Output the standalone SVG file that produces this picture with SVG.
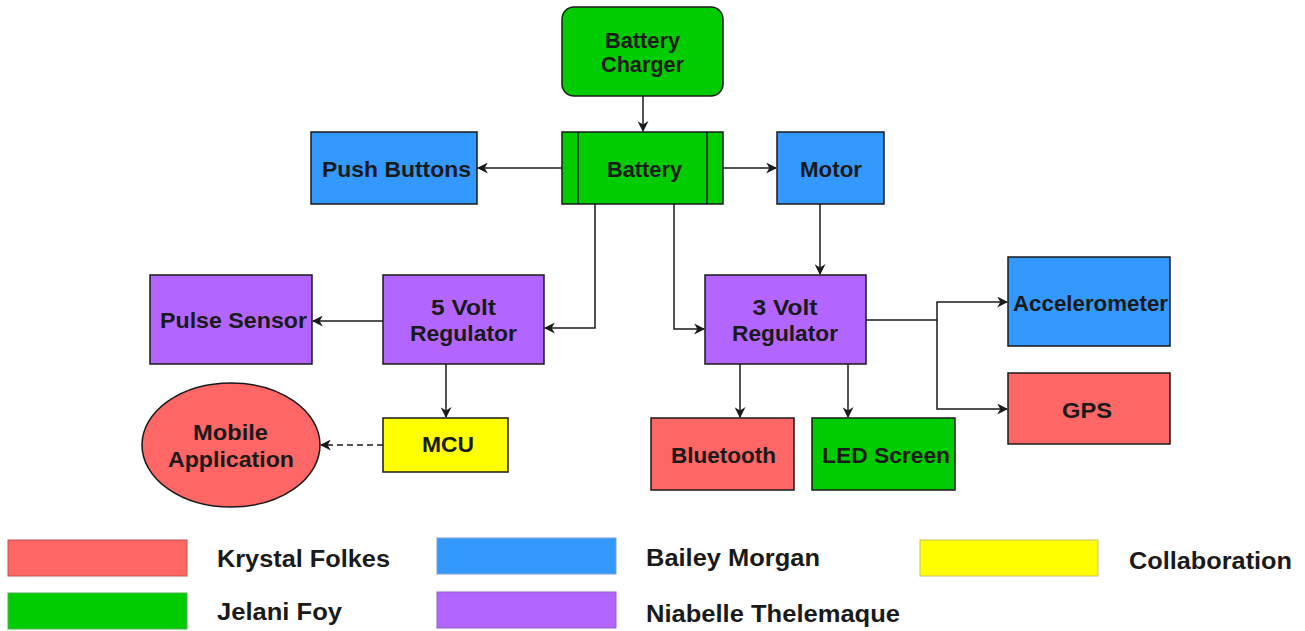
<svg xmlns="http://www.w3.org/2000/svg" width="1305" height="631" viewBox="0 0 1305 631">
<style>
.n{stroke:#1a1a1a;stroke-width:1.5}
.g{fill:#00CC00}.b{fill:#3399FF}.p{fill:#B266FF}.r{fill:#FF6666}.y{fill:#FFFF00}
text{font-family:"Liberation Sans",Arial,sans-serif;font-weight:bold;fill:#1a1a1a;text-anchor:middle}
.t{font-size:22px}
.l{font-size:23px;text-anchor:start}
.c{fill:none;stroke:#1a1a1a;stroke-width:1.5}
</style>
<defs>
<marker id="a" viewBox="0 0 10 10" refX="9" refY="5" markerWidth="11" markerHeight="11" markerUnits="userSpaceOnUse" orient="auto">
<path d="M0,0 L10,5 L0,10 L3,5 Z" fill="#1a1a1a"/>
</marker>
</defs>
<g id="connectors">
<path class="c" d="M643,96 V131" marker-end="url(#a)"/>
<path class="c" d="M562,168 H478" marker-end="url(#a)"/>
<path class="c" d="M723,168 H776" marker-end="url(#a)"/>
<path class="c" d="M595,204 V328 H545" marker-end="url(#a)"/>
<path class="c" d="M674,204 V329 H704" marker-end="url(#a)"/>
<path class="c" d="M820,204 V274" marker-end="url(#a)"/>
<path class="c" d="M383,321 H313" marker-end="url(#a)"/>
<path class="c" d="M446,364 V417" marker-end="url(#a)"/>
<path class="c" d="M383,445 H321" stroke-dasharray="6,4" marker-end="url(#a)"/>
<path class="c" d="M740,364 V417" marker-end="url(#a)"/>
<path class="c" d="M848,364 V417" marker-end="url(#a)"/>
<path class="c" d="M866,320 H937 V302 H1007" marker-end="url(#a)"/>
<path class="c" d="M937,320 V409 H1007" marker-end="url(#a)"/>
</g>
<g id="battery-charger"><rect class="n g" x="562" y="7" width="161" height="89" rx="12"/><text class="t" x="642.5" y="48" textLength="75" lengthAdjust="spacingAndGlyphs">Battery</text><text class="t" x="642.5" y="72" textLength="83" lengthAdjust="spacingAndGlyphs">Charger</text></g>
<g id="battery"><rect class="n g" x="562" y="132" width="161" height="72"/><line class="n" x1="578" y1="132" x2="578" y2="204"/><line class="n" x1="707" y1="132" x2="707" y2="204"/><text class="t" x="644.5" y="177" textLength="75" lengthAdjust="spacingAndGlyphs">Battery</text></g>
<g id="push-buttons"><rect class="n b" x="311" y="132" width="166" height="72"/><text class="t" x="396.5" y="177" textLength="149" lengthAdjust="spacingAndGlyphs">Push Buttons</text></g>
<g id="motor"><rect class="n b" x="777" y="132" width="107" height="72"/><text class="t" x="831" y="177" textLength="62" lengthAdjust="spacingAndGlyphs">Motor</text></g>
<g id="pulse-sensor"><rect class="n p" x="150" y="275" width="162" height="89"/><text class="t" x="233.5" y="328" textLength="147" lengthAdjust="spacingAndGlyphs">Pulse Sensor</text></g>
<g id="reg5"><rect class="n p" x="383" y="275" width="161" height="89"/><text class="t" x="463.5" y="315" textLength="65" lengthAdjust="spacingAndGlyphs">5 Volt</text><text class="t" x="463.5" y="341" textLength="107" lengthAdjust="spacingAndGlyphs">Regulator</text></g>
<g id="reg3"><rect class="n p" x="705" y="275" width="161" height="89"/><text class="t" x="785" y="315" textLength="65" lengthAdjust="spacingAndGlyphs">3 Volt</text><text class="t" x="785" y="341" textLength="106" lengthAdjust="spacingAndGlyphs">Regulator</text></g>
<g id="accelerometer"><rect class="n b" x="1008" y="257" width="162" height="89"/><text class="t" x="1090.5" y="311" textLength="155" lengthAdjust="spacingAndGlyphs">Accelerometer</text></g>
<g id="gps"><rect class="n r" x="1008" y="373" width="162" height="71"/><text class="t" x="1087" y="418" textLength="50" lengthAdjust="spacingAndGlyphs">GPS</text></g>
<g id="mcu"><rect class="n y" x="383" y="418" width="125" height="54"/><text class="t" x="448" y="452" textLength="52" lengthAdjust="spacingAndGlyphs">MCU</text></g>
<g id="mobile-app"><ellipse class="n r" cx="231" cy="445" rx="89" ry="62"/><text class="t" x="230.5" y="440" textLength="75" lengthAdjust="spacingAndGlyphs">Mobile</text><text class="t" x="231" y="467" textLength="126" lengthAdjust="spacingAndGlyphs">Application</text></g>
<g id="bluetooth"><rect class="n r" x="651" y="418" width="143" height="72"/><text class="t" x="723.5" y="463" textLength="105" lengthAdjust="spacingAndGlyphs">Bluetooth</text></g>
<g id="led-screen"><rect class="n g" x="812" y="418" width="143" height="72"/><text class="t" x="886" y="463" textLength="128" lengthAdjust="spacingAndGlyphs">LED Screen</text></g>
<g id="legend">
<rect class="r" x="8" y="540" width="179" height="36" stroke="#c05050"/><text class="l" x="217" y="567" textLength="173" lengthAdjust="spacingAndGlyphs">Krystal Folkes</text>
<rect class="g" x="8" y="593" width="179" height="36" stroke="#50b050"/><text class="l" x="217" y="620" textLength="125" lengthAdjust="spacingAndGlyphs">Jelani Foy</text>
<rect class="b" x="437" y="538" width="179" height="36" stroke="#80a0d0"/><text class="l" x="646" y="566" textLength="174" lengthAdjust="spacingAndGlyphs">Bailey Morgan</text>
<rect class="p" x="437" y="592" width="179" height="36" stroke="#9060c0"/><text class="l" x="646" y="622" textLength="254" lengthAdjust="spacingAndGlyphs">Niabelle Thelemaque</text>
<rect class="y" x="920" y="540" width="178" height="36" stroke="#d0c060"/><text class="l" x="1129" y="569" textLength="163" lengthAdjust="spacingAndGlyphs">Collaboration</text>
</g>
</svg>
